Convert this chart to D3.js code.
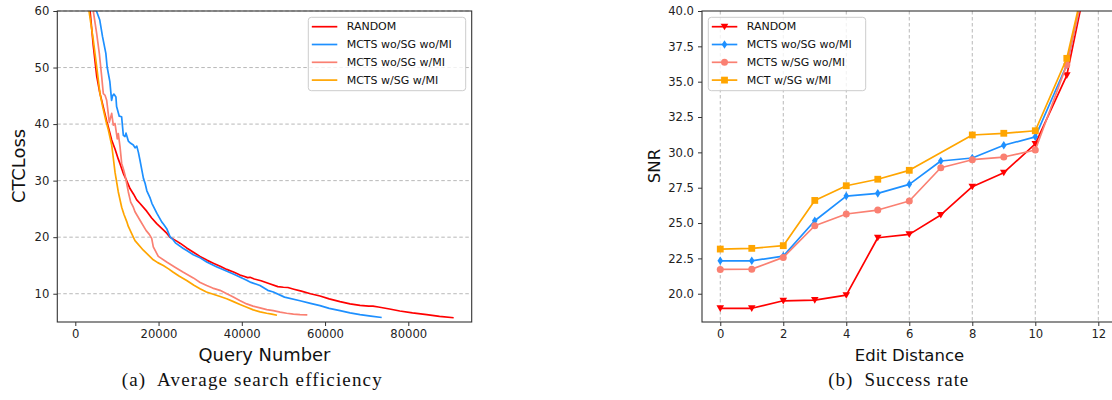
<!DOCTYPE html>
<html><head><meta charset="utf-8">
<script src="https://cdn.jsdelivr.net/npm/d3@7"></script>
<style>
body{margin:0;background:#fff;}
text{font-family:"DejaVu Sans",sans-serif;}
.cap{font-family:"Liberation Serif","Times New Roman",serif;}
</style></head>
<body><svg id="c" width="1112" height="400"></svg>
<script>
// ---------- Left panel data (Query Number vs CTCLoss) ----------
const seriesNamesLeft = ["RANDOM","MCTS wo/SG wo/MI","MCTS wo/SG w/MI","MCTS w/SG w/MI"];
const qRandom = [200,3550,4300,5140,5900,6340,6730,7540,7930,8740,9130,9540,10330,10740,11530,12340,13140,14000,14750,15500,17150,18350,19560,21140,21960,22750,24360,25250,26760,28470,29960,31710,33150,34940,36370,38150,39570,40500,41400,41970,43000,44620,46500,48660,50000,51080,52500,54300,56500,58790,61000,63590,66000,68400,70500,71500,72800,75500,77960,81000,84420,87500,90900];
const lossRandom = [78,60,54,48.5,45.5,44.2,43.0,40.5,39.5,37.2,36.4,35.6,33.8,33.0,31.3,30.0,28.6,27.6,26.6,26.0,24.6,23.4,22.4,21.3,20.7,20.0,19.3,18.9,18.1,17.3,16.6,15.9,15.4,14.8,14.3,13.8,13.3,13.1,12.85,12.9,12.6,12.3,11.8,11.25,11.15,11.1,10.8,10.45,10.0,9.6,9.1,8.6,8.2,7.95,7.8,7.8,7.65,7.3,6.95,6.6,6.3,6.0,5.75];
const qWoSGWoMI = [200,5080,5880,6530,7340,7650,8300,8720,8960,9270,9760,9920,10560,11130,11540,11940,12180,12740,13310,13940,14360,14770,15160,15540,15980,16370,16780,17190,17990,18400,19610,20760,21210,21960,22750,23540,24040,25950,26870,28350,30090,31570,34140,34760,37960,41170,42200,44370,46240,47570,50260,53980,56500,58790,61000,63590,66000,68400,71000,73610];
const lossWoSGWoMI = [76,60,58.4,55.5,52.5,50.1,47.5,44.2,45.0,45.3,44.8,43.1,41.4,41.3,38.0,37.8,38.4,37.0,36.6,36.3,35.8,36.1,35.0,33.6,31.9,30.4,29.5,28.2,26.9,26.0,24.2,22.7,22.3,21.5,20.1,19.5,19.0,18.0,17.6,16.9,16.3,15.6,14.7,14.5,13.5,12.4,12.0,11.45,10.6,10.3,9.4,8.75,8.3,7.9,7.4,7.0,6.6,6.3,6.05,5.8];
const qWoSGWMI = [200,4320,5140,5770,6340,6730,7140,7540,8170,8740,9130,9540,10090,10330,10740,11150,11540,11940,12740,13310,13940,14340,15540,16990,17780,18350,18740,19150,19940,21950,23950,25950,28350,30000,31560,33000,34760,36400,37960,39500,41170,42700,44370,46000,47570,49200,50780,52400,53980,55740];
const lossWoSGWMI = [80,60,56.0,52.5,48.4,45.4,45.1,44.2,40.3,41.9,39.8,40.1,37.4,38.3,36.0,33.0,32.1,31.0,28.0,26.2,25.3,24.5,23.0,21.2,20.5,19.8,18.3,17.7,16.6,15.6,14.7,13.8,12.8,12.0,11.45,11.0,10.6,10.0,9.4,8.8,8.2,7.8,7.5,7.2,7.0,6.75,6.55,6.4,6.3,6.25];
const qWSGWMI = [200,3290,4320,5140,5930,6600,7380,7930,8740,9130,9540,10330,11140,11700,12340,12740,13940,14340,16340,18740,19800,21140,22400,23540,25000,26760,28500,29960,31500,33150,34800,36370,38000,39570,41200,42760,44400,45980,47200,48450];
const lossWSGWMI = [78,60,54.9,50.1,45.4,43.0,40.5,39.0,36.3,34.0,31.5,28.0,25.3,24.0,22.8,21.9,20.0,19.4,17.7,16.0,15.5,15.0,14.4,13.8,13.1,12.35,11.5,10.9,10.3,9.9,9.5,9.1,8.6,8.1,7.6,7.15,6.8,6.55,6.4,6.2];
const xTicksLeft = [0,20000,40000,60000,80000];
const yTicksLeft = [10,20,30,40,50,60];

// ---------- Right panel data (Edit Distance vs SNR) ----------
const seriesNamesRight = ["RANDOM","MCTS wo/SG wo/MI","MCTS w/SG wo/MI","MCT w/SG w/MI"];
const editDist = [0,1,2,3,4,5,6,7,8,9,10,11,12];
const snrRandom = [18.97,18.97,19.5,19.55,19.9,23.96,24.2,25.57,27.57,28.56,30.6,35.45,46.2];
const snrWoSGWoMI = [22.33,22.33,22.66,25.16,26.91,27.1,27.74,29.39,29.6,30.5,31.1,36.2,46.2];
const snrWSGWoMI = [21.72,21.74,22.57,24.81,25.64,25.92,26.56,28.91,29.48,29.67,30.17,36.2,46.1];
const editDistMCT = [0,1,2,3,4,5,6,8,9,10,11,12];
const snrMCT = [23.16,23.21,23.4,26.6,27.64,28.1,28.73,31.23,31.35,31.53,36.65,46.3];
const xTicksRight = [0,2,4,6,8,10,12];
const yTicksRight = [20,22.5,25,27.5,30,32.5,35,37.5,40];

const colors = ["#ff0000","#1e90ff","#fa8072","#ffa500"];

const svg = d3.select("#c");
svg.append("rect").attr("width",1112).attr("height",400).attr("fill","#fff");
const defs = svg.append("defs");

function panel(o){
  const g = svg.append("g");
  const x = d3.scaleLinear().domain(o.xd).range(o.xr);
  const y = d3.scaleLinear().domain(o.yd).range([322,11]);
  const id = "clip"+o.id;
  defs.append("clipPath").attr("id",id).append("rect")
    .attr("x",o.xr[0]).attr("y",11).attr("width",o.xr[1]-o.xr[0]).attr("height",311);
  const grid = g.append("g");
  if(o.hgrid) o.yt.forEach(t=>grid.append("line").attr("x1",o.xr[0]).attr("x2",o.xr[1]).attr("y1",y(t)).attr("y2",y(t))
      .attr("stroke","#b0b0b0").attr("stroke-width",0.9).attr("stroke-dasharray","3.5,2.5"));
  if(o.vgrid) o.xt.forEach(t=>grid.append("line").attr("x1",x(t)).attr("x2",x(t)).attr("y1",11).attr("y2",322)
      .attr("stroke","#b0b0b0").attr("stroke-width",0.9).attr("stroke-dasharray","3.5,2.5"));
  const xa = g.append("g").attr("transform","translate(0,322)")
    .call(d3.axisBottom(x).tickValues(o.xt).tickFormat(o.xf).tickSizeOuter(0).tickSizeInner(4).tickPadding(4));
  const ya = g.append("g").attr("transform",`translate(${o.xr[0]},0)`)
    .call(d3.axisLeft(y).tickValues(o.yt).tickFormat(o.yf).tickSizeOuter(0).tickSizeInner(4).tickPadding(4));
  [xa,ya].forEach(a=>{a.select(".domain").remove();a.selectAll("line").attr("stroke","#333");
    a.selectAll("text").attr("font-size",11.6).attr("fill","#222").attr("font-family","DejaVu Sans");});
  const pg = g.append("g").attr("clip-path",`url(#${id})`);
  o.series.forEach((s,i)=>{
    const pts = s.xs.map((d,j)=>[d,s.ys[j]]);
    pg.append("path").datum(pts).attr("fill","none").attr("stroke",s.color).attr("stroke-width",o.lw)
      .attr("stroke-linejoin","round")
      .attr("d",d3.line().x(d=>x(d[0])).y(d=>y(d[1])));
    if(s.marker) pts.forEach(p=>drawMarker(pg,s.marker,x(p[0]),y(p[1]),s.color));
  });
  g.append("rect").attr("x",o.xr[0]).attr("y",11).attr("width",o.xr[1]-o.xr[0]).attr("height",311)
    .attr("fill","none").attr("stroke","#333").attr("stroke-width",1.1);
  g.append("text").attr("x",o.xlx).attr("y",360.5)
    .attr("text-anchor","middle").attr("font-size",o.lfs).attr("fill","#111").text(o.xlab);
  g.append("text").attr("transform",`translate(${o.ylx},166) rotate(-90)`).attr("text-anchor","middle")
    .attr("dominant-baseline","central").attr("font-size",o.lfs).attr("fill","#111").text(o.ylab);
  g.append("text").attr("class","cap").attr("x",o.capx).attr("y",386).attr("text-anchor","middle")
    .attr("font-size",19).attr("fill","#111").attr("textLength",o.capw).attr("lengthAdjust","spacing")
    .style("white-space","pre").text(o.cap);
  const L = g.append("g");
  L.append("rect").attr("x",o.lg).attr("y",17.3).attr("width",157.4).attr("height",73.4).attr("rx",3)
    .attr("fill","#fff").attr("fill-opacity",0.8).attr("stroke","#cccccc").attr("stroke-width",1);
  o.series.forEach((s,i)=>{
    const yy = 26.7 + i*17.8;
    L.append("line").attr("x1",o.lg+3.5).attr("x2",o.lg+29).attr("y1",yy).attr("y2",yy)
      .attr("stroke",s.color).attr("stroke-width",o.lw);
    if(s.marker) drawMarker(L,s.marker,o.lg+16.2,yy,s.color);
    L.append("text").attr("x",o.lg+38.4).attr("y",yy).attr("dominant-baseline","central")
      .attr("font-size",11).attr("fill","#111").text(s.name);
  });
}

function drawMarker(g,type,cx,cy,color){
  if(type==="v"){
    g.append("path").attr("d",`M${cx-3.8},${cy-3} L${cx+3.8},${cy-3} L${cx},${cy+3.6} Z`).attr("fill",color);
  } else if(type==="d"){
    g.append("path").attr("d",`M${cx},${cy-4.3} L${cx+2.8},${cy} L${cx},${cy+4.3} L${cx-2.8},${cy} Z`).attr("fill",color);
  } else if(type==="o"){
    g.append("circle").attr("cx",cx).attr("cy",cy).attr("r",3.5).attr("fill",color);
  } else if(type==="s"){
    g.append("rect").attr("x",cx-3.4).attr("y",cy-3.4).attr("width",6.8).attr("height",6.8).attr("fill",color);
  }
}

panel({
  id:"L", xd:[-4324,95230], xr:[57.3,471.7], yd:[5,60], xt:xTicksLeft, yt:yTicksLeft,
  xf:d3.format("d"), yf:d3.format("d"), hgrid:true, vgrid:false, lw:1.7, lfs:17.9,
  xlab:"Query Number", ylab:"CTCLoss", xlx:264.5, ylx:18, cap:"(a)  Average search efficiency", capx:251.7, capw:260,
  lg:308.3,
  series:[
    {name:seriesNamesLeft[0],xs:qRandom,ys:lossRandom,color:colors[0]},
    {name:seriesNamesLeft[1],xs:qWoSGWoMI,ys:lossWoSGWoMI,color:colors[1]},
    {name:seriesNamesLeft[2],xs:qWoSGWMI,ys:lossWoSGWMI,color:colors[2]},
    {name:seriesNamesLeft[3],xs:qWSGWMI,ys:lossWSGWMI,color:colors[3]}
  ]
});
panel({
  id:"R", xd:[-0.58,12.6], xr:[702,1117.2], yd:[18,40], xt:xTicksRight, yt:yTicksRight,
  xf:d3.format("d"), yf:d3.format(".1f"), hgrid:false, vgrid:true, lw:1.7, lfs:16.5,
  xlab:"Edit Distance", ylab:"SNR", xlx:909.5, ylx:654, cap:"(b)  Success rate", capx:898.3, capw:140,
  lg:708.3,
  series:[
    {name:seriesNamesRight[0],xs:editDist,ys:snrRandom,color:colors[0],marker:"v"},
    {name:seriesNamesRight[1],xs:editDist,ys:snrWoSGWoMI,color:colors[1],marker:"d"},
    {name:seriesNamesRight[2],xs:editDist,ys:snrWSGWoMI,color:colors[2],marker:"o"},
    {name:seriesNamesRight[3],xs:editDistMCT,ys:snrMCT,color:colors[3],marker:"s"}
  ]
});
</script></body></html>
